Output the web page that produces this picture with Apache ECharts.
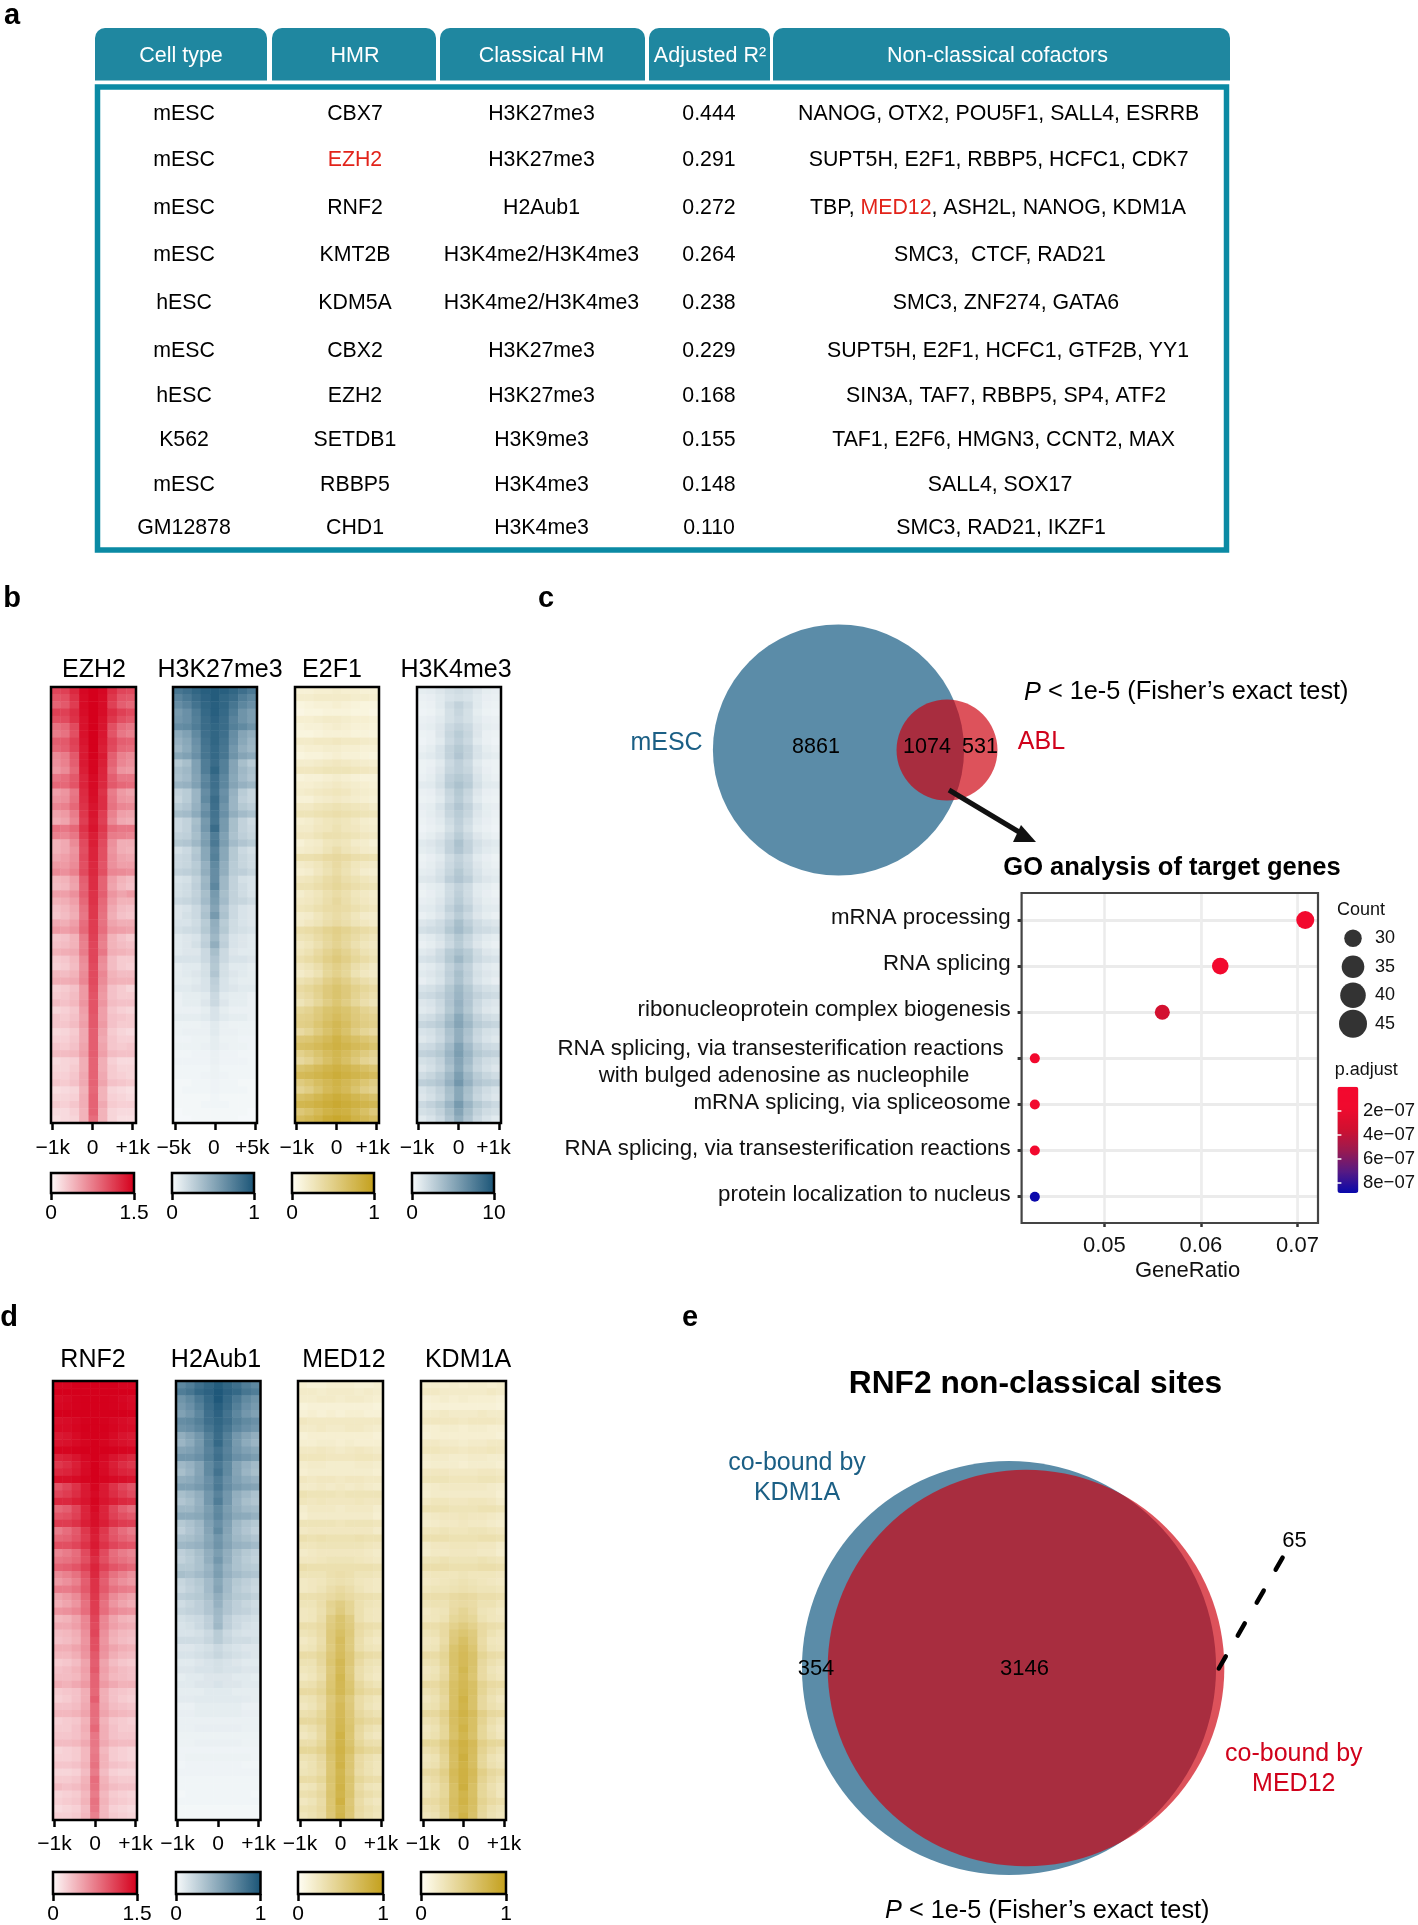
<!DOCTYPE html>
<html><head><meta charset="utf-8">
<style>html,body{margin:0;padding:0;background:#fff}#c{width:1418px;height:1925px}</style>
<script src="https://cdn.jsdelivr.net/npm/echarts@6/dist/echarts.min.js"></script>
</head><body><div id="c"></div>
<script>
// ---------- panel a: table ----------
const tableHeaders=["Cell type","HMR","Classical HM","Adjusted R²","Non-classical cofactors"];
const cellTypes=["mESC","mESC","mESC","mESC","hESC","mESC","hESC","K562","mESC","GM12878"];
const hmrNames=["CBX7","{r|EZH2}","RNF2","KMT2B","KDM5A","CBX2","EZH2","SETDB1","RBBP5","CHD1"];
const classicalHM=["H3K27me3","H3K27me3","H2Aub1","H3K4me2/H3K4me3","H3K4me2/H3K4me3","H3K27me3","H3K27me3","H3K9me3","H3K4me3","H3K4me3"];
const adjustedR2=["0.444","0.291","0.272","0.264","0.238","0.229","0.168","0.155","0.148","0.110"];
const cofactors=["NANOG, OTX2, POU5F1, SALL4, ESRRB","SUPT5H, E2F1, RBBP5, HCFC1, CDK7","TBP, {r|MED12}, ASH2L, NANOG, KDM1A","SMC3,  CTCF, RAD21","SMC3, ZNF274, GATA6","SUPT5H, E2F1, HCFC1, GTF2B, YY1","SIN3A, TAF7, RBBP5, SP4, ATF2","TAF1, E2F6, HMGN3, CCNT2, MAX","SALL4, SOX17","SMC3, RAD21, IKZF1"];

// ---------- heatmaps: rows top to bottom, 9 bins across, % of colour-scale maximum ----------
const hmEZH2=[[72,74,84,97,100,97,82,72,70],[66,68,80,96,100,96,78,66,64],[60,64,76,96,100,95,74,62,58],[74,74,82,95,100,95,82,74,70],[68,70,80,93,100,93,78,68,64],[54,58,70,93,100,92,68,56,52],[50,54,68,93,100,91,66,52,48],[62,64,74,92,100,90,72,62,60],[58,62,72,90,100,88,70,58,56],[44,50,64,90,99,90,62,48,44],[42,48,62,90,98,88,60,46,42],[38,44,58,88,98,86,56,40,38],[52,56,64,85,96,85,62,52,52],[58,58,66,86,96,84,64,58,56],[36,40,52,83,95,80,50,38,34],[40,42,54,82,94,82,52,40,38],[46,48,58,80,92,82,54,46,44],[34,38,50,78,92,76,48,36,34],[30,34,46,75,90,74,44,32,30],[54,52,58,80,92,78,56,52,52],[48,46,52,76,88,74,50,48,46],[28,32,44,70,88,70,42,30,30],[28,32,40,68,86,68,40,30,28],[32,36,42,70,86,68,42,34,32],[38,38,44,68,84,66,42,36,36],[44,42,48,70,84,68,46,44,42],[26,28,36,62,82,60,36,28,24],[24,26,34,60,82,60,34,26,22],[36,36,42,62,80,62,40,34,38],[28,30,36,58,80,58,36,28,28],[22,26,32,54,78,56,32,24,22],[20,24,30,52,78,54,30,22,20],[32,30,36,56,76,54,34,30,30],[38,36,40,58,76,56,38,36,34],[20,22,28,50,74,50,28,22,18],[22,24,28,48,72,48,28,24,22],[28,30,32,50,72,52,30,28,26],[18,20,26,44,72,44,24,18,18],[16,18,24,42,70,42,24,18,16],[26,24,28,44,70,46,28,24,24],[30,30,32,46,70,44,30,28,28],[16,18,22,38,68,40,22,18,14],[18,20,24,38,66,38,22,18,18],[24,22,26,40,66,40,24,22,22],[14,16,20,36,66,36,20,16,14],[20,18,22,34,64,36,22,20,18],[20,20,24,36,64,38,22,18,18],[13,14,18,32,62,34,18,14,12],[16,16,20,32,62,32,20,16,16],[20,18,22,34,62,34,20,18,20],[24,24,26,36,62,36,24,22,22],[12,14,16,30,60,30,16,12,12],[14,14,18,30,60,30,18,14,14],[16,16,20,32,60,32,18,16,14],[20,18,22,32,60,34,22,20,18],[11,12,14,28,58,28,14,12,10],[14,14,16,30,60,28,16,14,12],[18,16,20,30,60,32,18,16,16],[12,12,16,28,60,28,14,12,12],[10,12,14,28,56,28,14,10,10]];
const hmH3K27me3=[[80,84,90,94,96,94,90,84,78],[72,78,86,92,96,90,86,76,70],[66,72,82,90,94,90,80,70,64],[58,64,76,88,94,88,76,62,56],[60,64,74,86,92,86,72,62,56],[66,68,76,86,90,86,74,68,62],[48,54,68,84,90,84,66,52,46],[44,50,64,82,90,82,64,50,42],[40,48,62,80,88,80,60,46,40],[50,54,64,80,88,80,62,52,48],[30,36,54,76,86,74,52,36,28],[36,40,54,76,90,74,52,40,34],[34,38,52,70,84,70,50,38,32],[42,44,54,72,84,70,52,44,40],[24,28,42,66,82,64,44,28,22],[22,28,42,68,86,66,42,26,22],[28,32,44,62,84,62,42,30,26],[36,38,48,66,82,64,46,38,34],[20,24,36,58,80,58,36,24,18],[20,24,38,60,86,58,36,24,20],[24,26,36,54,76,54,34,26,22],[30,32,40,56,78,56,38,32,28],[16,20,30,50,72,50,30,20,16],[20,22,32,50,74,50,30,22,18],[20,22,28,44,68,46,28,22,18],[24,26,30,46,66,46,28,26,22],[14,16,24,40,66,40,24,16,14],[16,18,26,42,70,40,24,18,14],[16,18,24,36,58,36,24,18,14],[20,22,26,38,56,38,24,22,18],[12,14,20,32,52,32,20,14,12],[12,16,20,34,58,34,20,14,12],[14,14,18,28,46,28,18,14,12],[16,18,20,30,44,30,18,16,14],[10,12,14,24,40,24,14,12,10],[10,12,16,26,46,26,14,12,10],[10,12,12,20,36,20,12,10,10],[14,14,14,20,32,20,14,14,12],[8,10,10,16,30,16,10,10,8],[8,10,12,16,32,16,12,10,8],[8,8,10,14,26,14,10,8,8],[10,10,12,14,24,14,12,10,10],[6,8,8,10,20,10,8,8,6],[6,8,8,12,20,12,8,8,6],[6,6,6,8,14,8,6,6,6],[8,8,8,10,14,10,8,8,6],[5,5,5,6,10,6,5,5,5],[5,6,6,6,10,6,6,5,5],[4,4,5,5,8,5,5,4,4],[5,5,5,6,8,6,5,5,4],[3,3,4,4,6,4,4,3,3],[4,4,4,4,6,4,4,4,3],[3,3,3,3,5,3,3,3,3],[3,3,3,4,5,4,3,3,3],[2,2,3,3,4,3,3,2,2],[2,3,3,3,4,3,3,3,2],[2,2,2,2,3,2,2,2,2],[2,2,2,3,3,3,2,2,2],[1,2,2,2,2,2,2,2,1],[1,1,2,2,2,2,2,1,1]];
const hmE2F1=[[14,14,16,16,18,16,16,14,14],[18,18,20,20,20,20,18,18,16],[10,12,14,14,16,14,12,10,10],[8,10,10,12,12,12,10,10,8],[16,16,18,20,20,18,16,16,14],[12,14,14,16,18,16,14,14,12],[10,10,12,14,14,14,12,12,10],[20,20,22,22,24,22,22,20,18],[14,16,16,18,18,16,16,14,14],[10,12,12,14,16,14,14,12,10],[18,18,20,22,24,22,20,18,16],[24,24,26,28,28,28,26,24,22],[12,14,14,16,18,16,14,12,12],[16,16,18,20,22,20,18,16,14],[18,20,22,24,26,24,20,18,16],[14,14,18,20,22,20,18,16,14],[22,22,26,28,30,28,26,24,20],[28,28,30,32,34,32,30,28,26],[16,18,22,26,28,26,22,18,16],[20,20,24,26,30,26,24,20,18],[24,24,28,32,32,30,28,24,22],[14,18,20,26,28,26,20,18,14],[18,20,22,28,34,28,24,20,18],[32,32,34,38,40,38,34,32,30],[20,22,26,32,38,32,26,22,20],[16,18,24,30,36,30,24,18,16],[24,26,30,36,40,34,30,26,22],[30,30,34,38,42,38,34,30,28],[18,22,26,32,36,32,26,22,18],[22,24,28,34,40,34,28,24,20],[26,28,32,36,38,36,32,28,24],[18,20,26,32,36,32,26,20,18],[20,24,28,34,38,34,28,24,20],[34,36,40,46,50,46,40,36,32],[28,30,36,42,48,42,36,30,26],[22,26,32,40,46,40,32,26,22],[26,30,38,46,52,46,38,30,26],[32,36,42,50,56,50,42,36,30],[24,28,34,44,50,44,34,28,22],[20,24,30,42,48,42,30,24,20],[30,34,40,50,56,50,40,34,28],[38,42,48,56,62,56,48,42,36],[34,38,46,56,62,56,46,38,32],[28,34,42,52,60,52,42,34,28],[42,46,54,62,66,62,54,46,40],[48,50,56,64,70,64,56,50,46],[50,52,60,68,74,68,58,52,48],[38,44,54,64,72,64,52,44,38],[58,60,66,72,80,72,66,60,54],[66,68,72,78,82,78,72,68,62],[48,54,62,70,76,70,62,54,46],[40,46,56,66,74,66,56,46,40],[62,66,72,78,82,78,72,66,60],[72,74,78,82,86,82,78,74,70],[54,60,68,74,80,74,68,60,52],[46,52,62,72,78,72,62,52,46],[66,70,76,82,86,82,76,70,64],[76,78,82,86,90,86,82,78,74],[58,64,72,80,84,82,74,66,56],[70,74,80,88,92,88,80,74,68]];
const hmH3K4me3=[[8,9,12,16,18,16,12,8,7],[6,7,10,14,16,14,10,7,6],[5,6,10,18,24,18,10,6,5],[4,5,8,16,22,16,8,5,4],[6,7,10,16,20,16,10,7,6],[7,8,12,20,24,20,12,8,7],[5,6,12,22,28,22,12,6,5],[4,6,10,20,26,20,10,6,4],[6,8,14,24,30,24,14,8,6],[8,10,14,24,32,24,14,10,8],[5,6,10,20,26,20,10,6,5],[5,7,12,22,26,22,12,7,5],[6,8,14,26,30,26,14,8,6],[9,10,16,28,34,28,16,10,9],[6,7,12,22,30,22,12,7,6],[5,6,10,20,28,20,10,6,5],[7,8,14,24,32,24,14,8,7],[6,8,12,22,28,22,12,8,6],[5,7,10,18,26,18,10,7,5],[4,6,8,16,24,16,8,6,4],[6,8,12,20,28,20,12,8,6],[10,12,16,24,34,24,16,12,10],[8,10,14,24,32,24,14,10,8],[5,7,10,18,24,18,10,7,5],[6,8,12,20,26,20,12,8,6],[8,9,14,22,30,22,14,9,8],[11,12,16,26,32,26,16,12,10],[6,8,10,18,24,18,10,8,6],[5,7,10,18,26,18,10,7,5],[7,8,12,20,28,20,12,8,7],[9,10,14,24,32,24,14,10,9],[6,8,12,20,28,20,12,8,6],[12,14,18,26,36,26,18,14,12],[16,18,20,30,38,30,20,18,16],[8,10,14,22,30,22,14,10,8],[6,8,12,20,28,20,12,8,6],[10,12,18,28,34,28,18,12,10],[14,16,20,30,40,30,20,16,14],[8,10,14,24,32,24,14,10,8],[10,12,16,26,36,26,16,12,10],[7,10,14,24,34,24,14,10,7],[14,16,20,30,40,30,20,16,14],[18,20,24,32,42,32,24,20,18],[12,14,20,32,44,32,20,14,12],[10,12,18,30,42,30,18,12,10],[16,18,24,36,50,36,24,18,16],[22,24,28,40,52,40,28,24,22],[14,16,22,34,46,34,22,16,14],[11,14,20,32,46,32,20,14,11],[18,20,26,38,54,38,26,20,18],[24,26,30,42,56,42,30,26,24],[16,18,24,38,52,38,24,18,16],[12,16,22,34,50,34,22,16,12],[18,22,28,40,56,40,28,22,18],[26,28,32,44,60,44,32,28,26],[14,18,24,36,50,36,24,18,14],[12,16,22,34,50,34,22,16,12],[20,24,30,42,58,42,30,24,20],[16,18,24,36,52,36,24,18,16],[10,14,20,32,46,32,20,14,10]];
const hmRNF2=[[98,98,100,100,100,100,100,98,98],[100,100,100,100,100,100,100,100,100],[96,97,99,100,100,100,99,97,95],[97,98,99,100,100,100,99,98,96],[100,100,100,100,100,100,100,100,99],[94,95,97,99,100,99,97,95,93],[96,96,98,100,100,100,98,96,95],[90,92,96,99,100,99,96,92,90],[92,93,96,98,100,98,95,93,91],[98,98,99,100,100,100,99,98,97],[86,88,92,97,100,97,92,88,84],[78,82,88,95,100,95,88,82,78],[84,86,90,96,100,96,90,86,84],[94,94,96,98,100,98,96,94,92],[66,72,80,90,98,90,80,72,66],[72,76,82,90,96,90,82,76,70],[84,84,88,92,98,92,88,84,82],[58,62,72,86,96,86,72,62,56],[66,68,74,86,94,86,74,68,64],[76,76,80,88,94,88,80,76,74],[50,56,64,78,90,78,64,56,50],[58,60,66,76,88,76,66,60,56],[68,68,72,80,90,80,72,68,66],[46,50,56,70,86,70,56,50,46],[52,54,58,68,82,68,58,54,50],[60,62,66,74,86,74,66,62,58],[44,48,54,66,84,66,54,48,42],[38,42,48,62,80,62,48,42,38],[50,50,54,64,80,64,54,50,48],[34,38,44,58,78,58,44,38,34],[30,34,40,54,76,54,40,34,30],[40,42,46,56,76,56,46,42,40],[26,28,34,46,72,46,34,28,26],[32,32,36,46,70,46,36,32,30],[24,26,30,42,72,42,30,26,24],[22,24,28,40,68,40,28,24,22],[30,30,34,42,68,42,34,30,28],[26,26,30,40,64,40,30,26,24],[18,20,24,34,62,34,24,20,18],[22,24,28,36,64,36,28,24,22],[24,24,26,34,60,34,26,24,22],[30,28,32,38,60,38,32,28,28],[18,20,22,30,58,30,22,20,18],[16,18,22,30,62,30,22,18,16],[22,22,24,32,56,32,24,22,20],[26,26,28,34,56,34,28,26,24],[16,18,20,28,54,28,20,18,16],[18,18,22,30,58,30,22,18,18],[20,20,22,28,52,30,22,20,20],[24,24,26,32,52,32,26,24,24],[14,16,18,26,50,26,18,16,14],[16,16,18,26,52,28,18,16,14],[20,20,22,28,54,28,22,20,18],[14,14,16,24,50,24,16,14,14],[18,18,20,28,56,28,20,18,18],[24,22,24,30,54,30,24,22,22],[14,16,18,26,50,26,18,16,14],[16,18,20,28,54,28,20,18,16],[12,14,16,24,52,26,16,14,12],[16,16,18,26,48,26,18,16,14]];
const hmH2Aub1=[[70,76,84,90,96,90,84,76,70],[76,80,88,92,98,92,88,80,76],[62,68,78,88,98,88,78,68,62],[58,64,74,86,94,86,74,64,58],[54,60,70,84,92,82,70,60,54],[66,68,74,84,90,84,74,68,64],[62,64,70,80,88,80,70,64,60],[46,52,60,74,86,74,60,52,46],[42,48,58,74,88,74,58,48,42],[52,54,60,72,82,72,60,54,50],[60,60,64,74,84,74,64,60,56],[40,44,52,68,78,68,52,44,38],[36,42,52,68,82,68,52,42,36],[46,48,54,64,76,64,54,48,44],[54,54,58,66,78,66,58,54,52],[36,40,46,60,72,60,46,40,34],[32,36,44,60,76,60,44,36,32],[40,40,46,56,68,56,46,40,38],[48,48,50,58,70,58,50,48,44],[30,34,40,54,64,54,40,34,30],[26,32,38,52,68,52,38,32,26],[34,36,40,50,60,50,40,36,32],[40,42,44,52,62,52,44,42,38],[26,30,36,46,56,46,36,30,26],[24,28,34,46,60,46,34,28,24],[30,30,34,42,54,42,34,30,28],[36,34,38,44,56,44,38,34,32],[22,26,30,38,50,38,30,26,22],[20,24,28,38,52,38,28,24,20],[26,28,30,36,46,36,30,28,24],[18,22,26,32,44,32,26,22,18],[22,24,26,32,40,32,26,24,20],[16,18,20,26,38,26,20,18,16],[14,16,20,26,40,26,20,16,14],[14,14,16,20,28,20,16,14,14],[18,18,18,22,28,22,18,18,16],[12,12,14,16,20,16,14,12,12],[14,14,16,18,22,18,16,14,12],[10,10,12,14,16,14,12,10,10],[12,12,14,14,16,14,14,12,12],[8,10,10,12,12,12,10,10,8],[10,10,12,12,14,12,12,10,10],[8,8,8,10,10,10,8,8,8],[9,9,10,10,10,10,10,9,8],[6,6,8,8,8,8,8,6,6],[7,7,8,8,8,8,8,7,7],[6,6,6,6,6,6,6,6,6],[6,6,7,7,7,7,7,6,6],[5,5,5,5,5,5,5,5,5],[5,5,6,6,6,6,6,5,5],[4,4,4,4,4,4,4,4,4],[4,5,5,5,5,5,5,5,4],[3,4,4,4,4,4,4,3,3],[4,4,4,4,4,4,4,4,4],[3,3,3,3,3,3,3,3,3],[3,3,3,3,3,3,3,3,3],[2,3,3,3,3,3,3,3,2],[3,3,3,3,3,3,3,3,3],[2,2,2,2,2,2,2,2,2],[2,2,2,2,2,2,2,2,2]];
const hmMED12=[[16,14,14,16,16,16,14,14,16],[20,20,18,20,20,20,18,20,18],[18,18,20,20,18,20,20,18,16],[12,14,14,14,14,14,14,14,12],[14,16,14,16,14,16,16,14,14],[24,22,22,22,22,22,22,22,22],[20,20,22,20,20,22,22,20,18],[14,16,16,16,16,16,16,16,14],[16,16,18,18,16,18,16,16,16],[22,22,24,22,20,22,24,22,20],[26,26,26,24,24,24,26,26,24],[18,20,20,18,18,18,20,20,18],[16,18,18,18,18,18,18,18,16],[24,22,24,24,22,24,24,22,22],[20,20,22,20,22,20,22,20,18],[30,28,28,28,26,28,28,28,28],[26,24,26,24,24,24,26,24,24],[18,22,22,22,20,22,22,22,18],[16,20,20,20,20,20,20,20,16],[28,28,28,28,26,28,28,28,26],[22,24,24,24,24,24,24,24,20],[32,30,32,30,30,30,32,30,30],[26,26,28,28,28,28,28,26,24],[20,22,24,24,24,24,24,22,20],[24,24,26,28,28,28,26,24,22],[34,32,32,32,32,32,32,32,30],[28,28,28,32,34,32,28,28,26],[22,24,26,30,32,30,26,24,22],[22,24,28,34,38,34,28,24,22],[32,32,34,38,42,38,34,32,30],[28,28,34,46,52,44,32,28,26],[24,26,32,44,54,44,32,26,24],[24,26,34,52,62,52,32,26,24],[34,34,38,54,62,54,38,34,32],[28,30,36,56,66,56,36,30,26],[22,26,34,56,70,54,34,26,22],[26,28,36,54,68,54,34,28,26],[36,36,42,58,70,58,42,36,34],[30,30,40,60,74,58,38,30,28],[26,28,36,56,72,54,34,28,24],[22,26,34,58,76,56,34,26,22],[30,32,40,60,74,60,40,32,28],[38,38,44,62,74,62,44,38,36],[28,30,38,56,68,54,36,30,26],[24,28,36,58,72,56,36,28,24],[32,34,42,60,72,58,40,34,30],[40,40,46,62,74,60,46,40,38],[28,32,40,62,76,62,40,32,28],[24,28,38,62,80,60,38,28,24],[34,34,42,64,78,62,42,34,32],[42,42,48,66,80,66,48,42,40],[30,32,40,62,78,60,38,32,28],[26,30,38,60,80,60,38,30,26],[28,30,36,60,76,58,36,30,26],[36,36,42,62,78,62,42,36,34],[26,28,36,60,80,60,36,28,26],[32,34,40,62,78,62,40,34,30],[24,28,36,60,82,58,36,28,24],[30,32,38,60,76,60,38,32,28],[26,30,36,58,78,58,36,30,26]];
const hmKDM1A=[[18,18,16,18,16,18,18,16,18],[22,22,20,20,20,20,20,22,20],[14,16,18,16,18,16,16,16,14],[12,14,14,14,14,14,14,14,12],[20,20,22,20,20,20,22,20,20],[24,24,24,24,22,24,24,24,22],[16,16,18,18,16,18,18,16,16],[14,16,16,16,16,16,16,16,14],[22,22,20,20,18,20,20,22,22],[26,26,24,24,22,24,24,26,24],[18,20,20,18,18,20,20,18,18],[16,18,18,18,16,18,18,18,16],[24,24,24,22,22,22,24,24,22],[28,28,28,26,26,26,28,28,26],[18,20,22,22,22,22,22,20,18],[16,20,20,20,20,20,20,20,16],[22,26,26,24,24,26,26,24,20],[30,30,30,28,28,28,30,30,28],[20,22,24,24,26,24,24,22,20],[18,20,22,22,24,22,22,20,18],[26,26,28,26,26,28,28,26,24],[32,32,32,30,30,30,32,32,30],[20,24,24,26,26,26,24,24,20],[18,22,22,24,24,24,22,22,18],[28,28,30,28,28,28,30,28,26],[34,34,34,32,32,32,34,34,32],[24,26,26,26,28,26,26,26,24],[22,24,26,28,30,28,26,24,22],[26,28,28,30,32,30,28,28,26],[34,34,34,38,40,38,34,34,32],[28,30,30,36,38,36,30,30,26],[22,26,28,38,44,38,28,26,22],[24,26,30,42,46,42,30,26,24],[34,34,38,48,54,48,38,34,32],[28,30,38,54,60,54,38,30,26],[24,26,36,56,66,56,36,26,24],[26,28,40,62,70,60,38,28,26],[36,36,44,64,72,64,44,36,34],[30,32,42,64,72,64,40,32,28],[24,28,38,62,76,62,38,28,24],[26,30,40,62,72,60,38,30,26],[38,38,46,66,74,66,46,38,36],[30,34,44,66,76,66,44,34,30],[24,30,40,66,80,64,40,30,24],[28,32,42,66,78,64,40,32,28],[40,40,50,70,80,70,50,40,38],[30,34,46,68,76,66,46,34,28],[24,30,42,66,80,66,42,30,24],[26,32,42,64,76,64,42,32,26],[42,42,52,72,82,72,50,42,40],[32,36,48,70,80,70,46,36,30],[26,30,44,68,84,68,42,30,26],[28,32,44,68,80,68,42,32,28],[38,40,50,72,82,72,50,40,36],[30,36,46,70,82,70,46,36,30],[26,32,42,66,84,66,42,32,26],[28,34,42,66,78,66,42,34,26],[36,38,46,68,80,68,46,38,34],[30,34,44,68,76,66,42,32,28],[26,30,42,64,80,64,40,30,26]];
const tickValues=[-1,0,1];
const tickLabels1k=["−1k","0","+1k"];
const tickLabels5k=["−5k","0","+5k"];

// ---------- panel c: Venn + GO dot plot ----------
const vennCCounts=[8861,1074,531];
const vennCNames=["mESC","ABL"];
const goTerms=["mRNA processing","RNA splicing","ribonucleoprotein complex biogenesis","RNA splicing, via transesterification reactions\nwith bulged adenosine as nucleophile","mRNA splicing, via spliceosome","RNA splicing, via transesterification reactions","protein localization to nucleus"];
const goRatio=[0.0708,0.062,0.056,0.0428,0.0428,0.0428,0.0428];
const goCount=[45,41,37,27,27,27,27];
const goPadj=[1e-7,1e-7,3.4e-7,1e-7,1e-7,1e-7,8.8e-7];
const ratioTicks=[0.05,0.06,0.07];
const ratioMinorTicks=[0.045,0.055,0.065];
const countLegend=[30,35,40,45];
const padjTicks=[2e-7,4e-7,6e-7,8e-7];
const padjLabels=["2e−07","4e−07","6e−07","8e−07"];

// ---------- panel e: Venn ----------
const vennECounts=[354,3146,65];
const vennENames=["co-bound by\nKDM1A","co-bound by\nMED12"];

// ---------- layout and style ----------
const FONT='"Liberation Sans",Arial,sans-serif';
const RED=['#fdf8f8','#d5001c'],BLUE=['#f7fafb','#1b5577'],GOLD=['#fffef4','#c4a01c'];
const TEXTBLUE='#1b5f85',TEXTRED='#d0021b';
const grid=[],xAxis=[],yAxis=[],series=[],visualMap=[],els=[];
function T(text,x,y,size,o={}){
  return {type:'text',x,y:y+1.5,z:200,silent:true,style:{text,fontSize:size,fontFamily:FONT,fontWeight:o.bold?'bold':'normal',fill:o.color||'#000',
    textAlign:o.align||'center',align:o.align||'center',textVerticalAlign:'middle',verticalAlign:'middle',rich:o.rich,lineHeight:o.lineHeight}};
}
function frame(b,color,w){els.push({type:'rect',z:150,silent:true,shape:{x:b[0],y:b[1],width:b[2],height:b[3]},style:{fill:'none',stroke:color||'#000',lineWidth:w||2.5}});}
function hiddenX(g,o){xAxis.push(Object.assign({gridIndex:g,type:'value',show:false,splitLine:{show:false}},o||{}));return xAxis.length-1;}
function hiddenY(g,o){yAxis.push(Object.assign({gridIndex:g,type:'value',show:false,splitLine:{show:false}},o||{}));return yAxis.length-1;}

function heatPanel(p){
  const [x,y,w,h]=p.box;
  const g=grid.length; grid.push({left:x,top:y,width:w,height:h});
  const xc=xAxis.length; xAxis.push({gridIndex:g,type:'category',show:false,data:p.data[0].map((_,i)=>i)});
  const step=(p.ticks[2]-p.ticks[0])/2, t0=p.ticks[1];
  const lab=p.labelPos||tickValues;
  xAxis.push({gridIndex:g,type:'value',min:(x-t0)/step,max:(x+w-t0)/step,position:'bottom',
    axisLine:{show:false},splitLine:{show:false},
    axisTick:{show:true,customValues:tickValues,length:7,lineStyle:{color:'#000',width:2.5}},
    axisLabel:{show:true,customValues:lab,margin:p.labMargin,fontFamily:FONT,fontSize:21,color:'#000',formatter:v=>p.labels[lab.findIndex(t=>Math.abs(t-v)<1e-6)]}});
  const yc=yAxis.length; yAxis.push({gridIndex:g,type:'category',show:false,inverse:true,data:p.data.map((_,i)=>i)});
  const si=series.length;
  const d=[]; p.data.forEach((r,ri)=>r.forEach((v,ci)=>d.push([ci,ri,v*p.max/100])));
  series.push({type:'heatmap',xAxisIndex:xc,yAxisIndex:yc,data:d,silent:true,progressive:0,emphasis:{disabled:true},itemStyle:{borderWidth:0}});
  const [cx,cy,cw,ch]=p.cb;
  visualMap.push({type:'continuous',seriesIndex:si,dimension:2,min:0,max:p.max,orient:'horizontal',left:cx,top:cy,itemWidth:ch,itemHeight:cw,calculable:false,text:null,padding:0,showLabel:false,inRange:{color:p.colors},hoverLink:false,realtime:false});
  const gc=grid.length; grid.push({left:cx,top:cy,width:cw,height:ch});
  xAxis.push({gridIndex:gc,type:'value',min:0,max:p.max,position:'bottom',axisLine:{show:false},splitLine:{show:false},
    axisTick:{show:true,customValues:[0,p.max],length:7,lineStyle:{color:'#000',width:2.5}},
    axisLabel:{show:true,customValues:[0,p.max],margin:p.cbMargin,fontFamily:FONT,fontSize:21,color:'#000'}});
  hiddenY(gc);
  frame(p.box); frame(p.cb);
  els.push(T(p.name,p.titleX,p.titleY,25));
}
const bY=687,bH=436,dY=1381,dH=439;
[
 {name:"EZH2",data:hmEZH2,max:1.5,colors:RED,box:[51,bY,85,bH],ticks:[52.7,92.7,132.7],labels:tickLabels1k,cb:[51,1173,83,20],titleX:94,titleY:669,labMargin:15,cbMargin:10},
 {name:"H3K27me3",data:hmH3K27me3,max:1,colors:BLUE,box:[173,bY,84,bH],ticks:[175,215,255],labels:tickLabels5k,labelPos:[-1.03,-0.03,0.93],cb:[172,1173,82,20],titleX:220,titleY:669,labMargin:15,cbMargin:10},
 {name:"E2F1",data:hmE2F1,max:1,colors:GOLD,box:[295,bY,84,bH],ticks:[296.7,336.7,376.7],labels:tickLabels1k,labelPos:[-1,0,0.9],cb:[292,1173,82,20],titleX:332,titleY:669,labMargin:15,cbMargin:10},
 {name:"H3K4me3",data:hmH3K4me3,max:10,colors:BLUE,box:[417,bY,84,bH],ticks:[418.5,458.5,499],labels:tickLabels1k,labelPos:[-1.03,0,0.87],cb:[412,1173,82,20],titleX:456,titleY:669,labMargin:15,cbMargin:10},
 {name:"RNF2",data:hmRNF2,max:1.5,colors:RED,box:[53,dY,84,dH],ticks:[54.5,95,135.5],labels:tickLabels1k,cb:[53,1872,84,22],titleX:93,titleY:1358.5,labMargin:14,cbMargin:10},
 {name:"H2Aub1",data:hmH2Aub1,max:1,colors:BLUE,box:[176,dY,84.5,dH],ticks:[177.5,218,258.5],labels:tickLabels1k,cb:[176,1872,84.5,22],titleX:216,titleY:1358.5,labMargin:14,cbMargin:10},
 {name:"MED12",data:hmMED12,max:1,colors:GOLD,box:[298,dY,85,dH],ticks:[300,340.5,381],labels:tickLabels1k,cb:[298,1872,85,22],titleX:344,titleY:1358.5,labMargin:14,cbMargin:10},
 {name:"KDM1A",data:hmKDM1A,max:1,colors:GOLD,box:[421,dY,85,dH],ticks:[423,463.5,504],labels:tickLabels1k,cb:[421,1872,85,22],titleX:468,titleY:1358.5,labMargin:14,cbMargin:10}
].forEach(heatPanel);

// Venn helper: circle radius follows sqrt(set size); px = k * sqrt(count)
function venn(cxPx,cyPx,k,countA,countB,sepPx){
  const W=500,H=500;
  const g=grid.length; grid.push({left:cxPx-W/2,top:cyPx-H/2,width:W,height:H});
  const xi=hiddenX(g,{min:-W/2,max:W/2}), yi=hiddenY(g,{min:-H/2,max:H/2});
  const sym=c=>2*k*Math.sqrt(c);
  series.push({type:'scatter',xAxisIndex:xi,yAxisIndex:yi,silent:true,clip:false,z:3,symbolSize:sym(countA),data:[[0,0]],itemStyle:{color:'#5b8ca8',opacity:1}});
  series.push({type:'scatter',xAxisIndex:xi,yAxisIndex:yi,silent:true,clip:false,z:4,symbolSize:sym(countB),data:[[sepPx,0]],itemStyle:{color:'#cd000e',opacity:0.68}});
}
venn(838.5,750,1.26,vennCCounts[0]+vennCCounts[1],vennCCounts[1]+vennCCounts[2],108.5);
venn(1009,1668,3.5,vennECounts[0]+vennECounts[1],vennECounts[1]+vennECounts[2],17);

// dot plot
const xMin=0.04143,xMax=0.07212;
const gBack=grid.length; grid.push({left:1021.6,top:893,width:296.4,height:330});
const xBack=xAxis.length;
xAxis.push({gridIndex:gBack,type:'value',min:xMin,max:xMax,interval:0.01,position:'bottom',axisLine:{show:false},
  axisTick:{show:true,customValues:ratioTicks,length:4,lineStyle:{color:'#333',width:2.5}},
  axisLabel:{show:true,customValues:ratioTicks,margin:12,fontFamily:FONT,fontSize:22,color:'#111',formatter:v=>v.toFixed(2)},
  splitLine:{show:true,lineStyle:{color:'#ebebeb',width:2.5}}});
const yBack=hiddenY(gBack,{min:0,max:1});
series.push({type:'scatter',xAxisIndex:xBack,yAxisIndex:yBack,silent:true,symbolSize:0,z:1,data:[[ratioTicks[0],0]],
  markLine:{silent:true,symbol:'none',animation:false,label:{show:false},lineStyle:{color:'#eeeeee',width:1.5,type:'solid'},data:ratioMinorTicks.map(v=>({xAxis:v}))}});
const gDot=grid.length; grid.push({left:1021.6,top:920,width:296.4,height:276.7});
const xDot=hiddenX(gDot,{min:xMin,max:xMax});
const yDot=yAxis.length;
const GOF={fontFamily:FONT,fontSize:22.3,color:'#111'};
yAxis.push({gridIndex:gDot,type:'category',inverse:true,boundaryGap:false,data:goTerms,axisLine:{show:false},
  axisTick:{show:true,length:4,alignWithLabel:true,lineStyle:{color:'#333',width:3}},
  splitLine:{show:true,lineStyle:{color:'#ebebeb',width:3.2}},
  axisLabel:{show:true,margin:11,interval:0,formatter:v=>{const p=v.split('\n');return p.length>1?`{a|${p[0]}}\n{b|${p[1]}}`:`{t|${v}}`;},
    rich:{t:Object.assign({padding:[0,0,4,0]},GOF),a:Object.assign({height:27,padding:[9,7,0,0]},GOF),b:Object.assign({height:27,align:'center'},GOF)}}});
const dotSeries=series.length;
const dotSize=c=>Math.sqrt(100+12.5*(c-27));
series.push({type:'scatter',xAxisIndex:xDot,yAxisIndex:yDot,silent:true,clip:false,z:5,
  data:goRatio.map((r,i)=>[r,i,goCount[i],goPadj[i]]),symbolSize:v=>dotSize(v[2]),itemStyle:{opacity:1}});
const padjMax=8.86e-7;
visualMap.push({type:'continuous',seriesIndex:dotSeries,dimension:3,min:0,max:padjMax,inverse:true,orient:'vertical',left:1337.4,top:1086.7,itemWidth:21,itemHeight:106.3,calculable:false,text:null,padding:0,showLabel:false,hoverLink:false,
  inRange:{color:['#f4082e','#f00a2e','#d01030','#9a1a50','#561a84','#0808ac']}});
frame([1021.6,893,296.4,330],'#444',2.2);

// p.adjust colour bar axis
const gP=grid.length; grid.push({left:1337.4,top:1086.7,width:21,height:106.3});
hiddenX(gP,{min:0,max:1});
yAxis.push({gridIndex:gP,type:'value',min:0,max:padjMax,inverse:true,position:'right',z:10,axisLine:{show:false},splitLine:{show:false},
  axisTick:{show:true,inside:true,customValues:padjTicks,length:4,lineStyle:{color:'#fff',width:1.5}},
  axisLabel:{show:true,customValues:padjTicks,margin:7,fontFamily:FONT,fontSize:18.5,color:'#111',formatter:v=>padjLabels[padjTicks.findIndex(t=>Math.abs(t-v)<1e-9)]}});
yAxis.push({gridIndex:gP,type:'value',min:0,max:padjMax,inverse:true,position:'left',z:10,axisLine:{show:false},splitLine:{show:false},
  axisLabel:{show:false},axisTick:{show:true,inside:true,customValues:padjTicks,length:4,lineStyle:{color:'#fff',width:1.5}}});

// Count legend
const gC=grid.length; grid.push({left:1337,top:924,width:32,height:114});
const xC=hiddenX(gC,{min:0,max:1});
const yC=yAxis.length;
yAxis.push({gridIndex:gC,type:'category',position:'right',inverse:true,data:countLegend.map(String),axisLine:{show:false},axisTick:{show:false},splitLine:{show:false},
  axisLabel:{show:true,margin:6,fontFamily:FONT,fontSize:18,color:'#111'}});
const legendSize=c=>17.5+10.5*Math.pow((c-30)/15,0.65);
series.push({type:'scatter',xAxisIndex:xC,yAxisIndex:yC,silent:true,clip:false,z:5,data:countLegend.map((c,i)=>[0.5,i,c]),symbolSize:v=>legendSize(v[2]),itemStyle:{color:'#000'}});

// ---------- text and table ----------
const HX=[[95,172],[272,164],[440,205],[649,121],[773,457]];
const headerTextX=[181,355,541.5,710,997.5];
tableHeaders.forEach((h,i)=>{
  els.push({type:'rect',silent:true,shape:{x:HX[i][0],y:28,width:HX[i][1],height:52.5,r:[10,10,0,0]},style:{fill:'#1f87a0'}});
  els.push(T(h,headerTextX[i],54.5,21.5,{color:'#fff'}));
});
els.push({type:'rect',silent:true,shape:{x:97.5,y:87,width:1129,height:463},style:{fill:'none',stroke:'#0b8aa4',lineWidth:5.5}});
const rowY=[112.5,158.5,206.5,254,302,350,395,438.5,484,527];
const colX=[184,355,541.5,709];
const cofactorX=[998.7,998.7,998,1000,1006,1008,1006,1003.6,1000,1001];
const redRich={r:{fontSize:21.3,fontFamily:FONT,fill:'#e2231a'}};
[cellTypes,hmrNames,classicalHM,adjustedR2].forEach((col,c)=>col.forEach((v,r)=>els.push(T(v,colX[c],rowY[r],21.3,{rich:redRich}))));
cofactors.forEach((v,r)=>els.push(T(v,cofactorX[r],rowY[r],21.3,{rich:redRich})));

[["a",12,14],["b",12,597],["c",546,597],["d",9,1316],["e",690,1316]].forEach(a=>els.push(T(a[0],a[1],a[2],29,{bold:true})));

const pRich={p:{fontStyle:'italic',fontSize:25.3,fontFamily:FONT,fill:'#000'}};
const pText='{p|P} < 1e-5 (Fisher’s exact test)';
// panel c text
els.push(T(vennCNames[0],666.5,742,25,{color:TEXTBLUE}));
els.push(T(vennCNames[1],1041.5,741,25,{color:TEXTRED}));
els.push(T(String(vennCCounts[0]),816,746,21.5));
els.push(T(String(vennCCounts[1]),927,746,21.5));
els.push(T(String(vennCCounts[2]),980,746,21.5));
els.push(T(pText,1024,691,25.3,{align:'left',rich:pRich}));
els.push({type:'line',z:160,silent:true,shape:{x1:949,y1:790,x2:1024,y2:835},style:{stroke:'#111',lineWidth:5}});
els.push({type:'polygon',z:160,silent:true,shape:{points:[[1036,842],[1013,842],[1021,825]]},style:{fill:'#111'}});
els.push(T("GO analysis of target genes",1172,866,25.5,{bold:true}));
els.push(T("GeneRatio",1187.6,1269,22,{color:'#111'}));
els.push(T("Count",1337,909,18,{align:'left',color:'#111'}));
els.push(T("p.adjust",1334.7,1069,18,{align:'left',color:'#111'}));
// panel e text
els.push(T("RNF2 non-classical sites",1035.5,1382.5,31.7,{bold:true}));
const [ke1,ke2]=vennENames[0].split('\n'),[me1,me2]=vennENames[1].split('\n');
els.push(T(ke1,797,1462,25,{color:TEXTBLUE}));
els.push(T(ke2,797,1492,25,{color:TEXTBLUE}));
els.push(T(me1,1293.8,1753,25,{color:TEXTRED}));
els.push(T(me2,1293.8,1782.5,25,{color:TEXTRED}));
els.push(T(String(vennECounts[0]),816,1667,22));
els.push(T(String(vennECounts[1]),1024.5,1667,22));
els.push(T(String(vennECounts[2]),1294.6,1539.6,22));
els.push({type:'line',z:160,silent:true,shape:{x1:1218.8,y1:1668.5,x2:1282.6,y2:1557.7},style:{stroke:'#000',lineWidth:4.5,lineCap:'round',lineDash:[14,24]}});
els.push(T(pText,885,1909.6,25.3,{align:'left',rich:pRich}));

const chart=echarts.init(document.getElementById('c'),null,{renderer:'canvas',width:1418,height:1925});
chart.setOption({animation:false,backgroundColor:'#fff',tooltip:{show:false},grid,xAxis,yAxis,series,visualMap,graphic:{elements:els}});
</script></body></html>
